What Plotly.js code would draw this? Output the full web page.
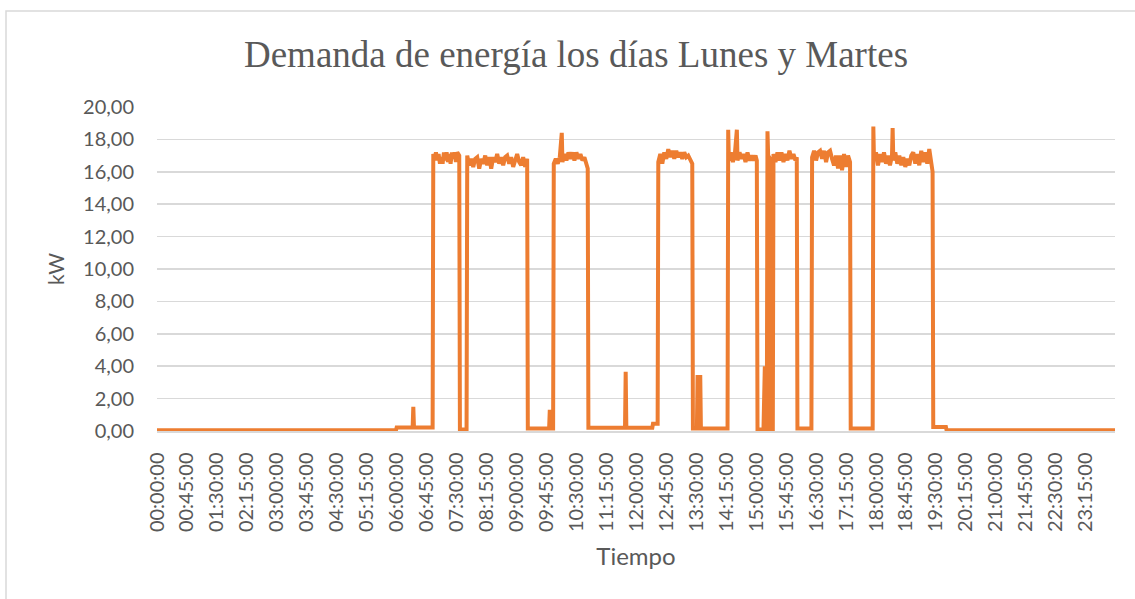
<!DOCTYPE html>
<html>
<head>
<meta charset="utf-8">
<script src="https://cdn.plot.ly/plotly-3.0.1.min.js"></script>
<style>html,body{margin:0;padding:0;background:#fff;}#chart{width:1135px;height:599px;}</style>
</head>
<body>
<div id="chart"></div>
<script>
// Hora de cada lectura (HH:MM) y demanda en kW
const horas = [
  "00:00","05:59","06:00","06:24","06:25","06:26","06:54",
  "06:55","06:57","06:59","07:01","07:03","07:05","07:07","07:09","07:11","07:13",
  "07:15","07:17","07:19","07:21","07:23","07:25","07:27","07:29","07:31","07:34",
  "07:35","07:45",
  "07:46","07:49","07:52","07:55","07:58","08:01","08:04","08:07","08:10","08:13",
  "08:16","08:19","08:22","08:25","08:28","08:31","08:34","08:37","08:40","08:43",
  "08:46","08:49","08:52","08:55","08:58","09:01","09:04","09:07","09:10","09:13","09:16",
  "09:17","09:49","09:50","09:51","09:55",
  "09:56","09:59","10:02","10:05","10:08","10:09","10:12","10:15","10:18","10:21",
  "10:24","10:27","10:30","10:33","10:36","10:39","10:42","10:45","10:47",
  "10:48","11:43","11:44","11:45","12:24","12:25","12:32",
  "12:33","12:36","12:39","12:42","12:45","12:48","12:51","12:54","12:57",
  "13:00","13:03","13:06","13:09","13:12","13:15","13:18","13:21","13:24",
  "13:25","13:31","13:32","13:33","13:35","13:36","13:37","14:17",
  "14:18","14:19","14:22","14:25","14:28","14:31","14:32","14:35","14:38",
  "14:41","14:44","14:47","14:50","14:53","14:56","14:59","15:01",
  "15:02","15:11","15:12","15:13","15:14","15:16","15:17","15:18","15:21","15:22","15:25",
  "15:26","15:29","15:32","15:35","15:38","15:41","15:44","15:47","15:50","15:53","15:56","15:59","16:01",
  "16:02","16:23",
  "16:24","16:27","16:30","16:33","16:36","16:39","16:42","16:45","16:48","16:51",
  "16:54","16:57","17:00","17:03","17:06","17:09","17:12","17:15","17:18","17:21",
  "17:22","17:55",
  "17:56","17:57","18:00","18:03","18:06","18:09","18:12","18:15","18:18","18:21","18:24",
  "18:25","18:26","18:29","18:32","18:35","18:38","18:41","18:44","18:47","18:50","18:53",
  "18:56","18:59","19:02","19:05","19:08","19:11","19:14","19:17","19:20","19:23","19:25",
  "19:26","19:45","19:46","23:59"
];
const demandaKW = [
  0.05,0.05,0.22,0.22,1.5,0.22,0.22,
  17.1,16.8,17.2,16.7,17.1,16.5,16.9,16.5,17.2,16.7,
  17.2,16.6,17.1,16.5,17.2,16.8,17.2,16.6,17.2,17.0,
  0.1,0.1,
  17.0,16.4,16.8,16.3,16.8,16.9,16.2,16.8,16.5,17.0,
  16.4,16.9,16.2,16.9,16.6,17.1,16.5,16.9,16.4,16.9,
  17.0,16.5,16.9,16.3,16.8,17.1,16.6,16.4,16.9,16.3,16.8,
  0.15,0.15,1.3,0.15,0.15,
  16.5,16.8,16.5,16.9,18.4,16.6,17.1,16.7,17.2,16.8,
  17.2,16.7,17.2,16.8,17.1,16.7,16.9,16.4,16.2,
  0.2,0.2,3.65,0.2,0.2,0.45,0.45,
  16.6,17.1,16.5,17.2,16.8,17.4,16.9,17.3,16.8,
  17.3,16.9,17.2,16.8,17.2,16.9,17.0,16.7,16.5,
  0.15,0.15,3.45,0.15,0.15,3.45,0.15,0.15,
  18.6,16.7,17.2,16.6,17.1,18.6,16.7,17.2,16.8,
  17.1,16.6,17.2,16.7,17.0,16.7,17.0,16.7,
  0.1,0.1,4.0,4.0,0.1,0.1,18.5,17.0,16.8,0.1,0.1,
  17.1,16.6,17.2,16.7,17.2,16.6,17.1,16.7,17.3,16.8,17.1,16.7,16.9,
  0.15,0.15,
  16.9,17.3,16.7,17.2,17.3,16.8,17.3,16.6,17.2,17.3,
  16.8,16.4,17.0,16.2,17.0,16.1,17.1,16.3,17.0,16.6,
  0.15,0.15,
  18.8,16.7,17.2,16.4,17.1,16.6,17.2,16.5,17.0,16.4,17.0,
  18.7,16.7,17.2,16.5,17.0,16.4,16.9,16.3,16.8,16.4,17.0,
  17.2,16.5,17.1,16.4,17.3,16.6,17.2,16.5,17.4,16.7,16.0,
  0.25,0.25,0.05,0.05
];
// Etiquetas del eje de tiempo
const etiquetasTiempo = [
  "00:00:00","00:45:00","01:30:00","02:15:00","03:00:00","03:45:00","04:30:00","05:15:00",
  "06:00:00","06:45:00","07:30:00","08:15:00","09:00:00","09:45:00","10:30:00","11:15:00",
  "12:00:00","12:45:00","13:30:00","14:15:00","15:00:00","15:45:00","16:30:00","17:15:00",
  "18:00:00","18:45:00","19:30:00","20:15:00","21:00:00","21:45:00","22:30:00","23:15:00"
];
const dia = "2024-01-01 ";
const x = horas.map(h => dia + h);
const tickvals = etiquetasTiempo.map(t => dia + t);

const trace = {
  x: x, y: demandaKW, type: "scatter", mode: "lines",
  line: {color: "#ED7D31", width: 4, shape: "linear"},
  hoverinfo: "x+y"
};
const txt = "#595959";
const layout = {
  width: 1135, height: 599,
  margin: {l: 157, r: 20, t: 107, b: 168},
  paper_bgcolor: "#ffffff", plot_bgcolor: "#ffffff",
  separators: ",.",
  showlegend: false,
  title: {
    text: "Demanda de energía los días Lunes y Martes",
    font: {family: "Liberation Serif, Times New Roman, serif", size: 37, color: txt},
    xref: "container", x: 576/1135, xanchor: "center",
    yref: "container", y: 1 - 54/599, yanchor: "middle"
  },
  xaxis: {
    type: "date",
    range: [dia + "00:00", dia + "23:59"],
    tickmode: "array", tickvals: tickvals, ticktext: etiquetasTiempo,
    tickangle: -90,
    tickfont: {family: "Lato, Noto Sans, sans-serif", size: 20, color: txt},
    showgrid: false, zeroline: false,
    showline: true, linecolor: "#D9D9D9", linewidth: 1.5,
    ticks: "", ticklabelstandoff: 12,
    title: {text: "Tiempo", font: {family: "Lato, Noto Sans, sans-serif", size: 24, color: txt}, standoff: 17},
    automargin: false, fixedrange: true
  },
  yaxis: {
    range: [0, 20], dtick: 2, tick0: 0, tickformat: ".2f",
    tickfont: {family: "Lato, Noto Sans, sans-serif", size: 20, color: txt},
    showgrid: true, gridcolor: "#D9D9D9", gridwidth: 1.5,
    zeroline: false, showline: false, ticks: "", ticklabelstandoff: 22,
    title: {text: "kW", font: {family: "Lato, Noto Sans, sans-serif", size: 21, color: txt}, standoff: 12},
    automargin: false, fixedrange: true
  },
  shapes: [{
    type: "rect", xref: "paper", yref: "paper",
    x0: (6 - 157) / 958, x1: (1145 - 157) / 958,
    y0: (431 - 620) / 324, y1: (431 - 11) / 324,
    line: {color: "#D9D9D9", width: 1.5}, fillcolor: "rgba(0,0,0,0)", layer: "below"
  }]
};
Plotly.newPlot("chart", [trace], layout, {displayModeBar: false, staticPlot: true});
</script>
</body>
</html>
